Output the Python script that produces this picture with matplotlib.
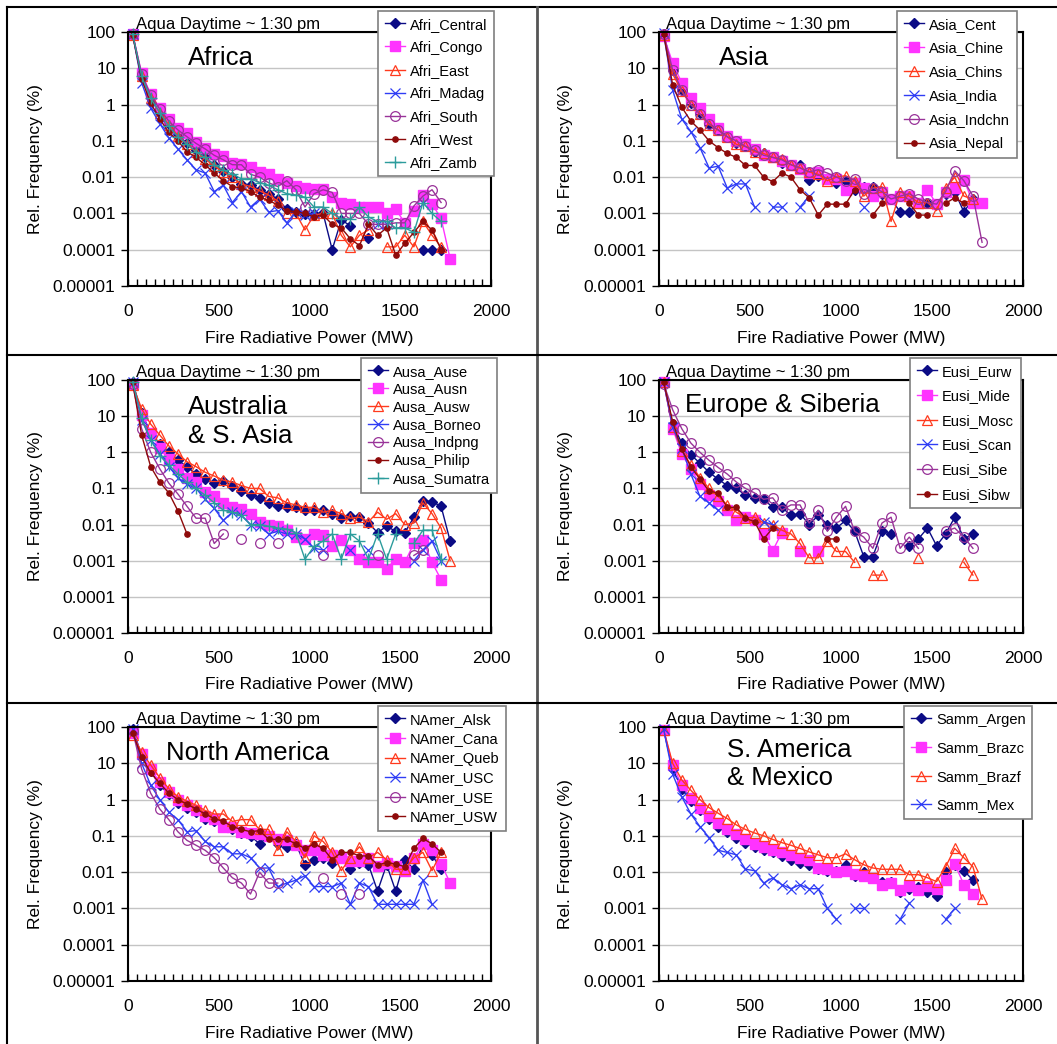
import numpy as np
import matplotlib
matplotlib.use('Agg')
import matplotlib.pyplot as plt
from matplotlib.lines import Line2D
from matplotlib.ticker import FixedLocator, MultipleLocator, NullLocator

plt.rcParams['font.family'] = ['Liberation Sans', 'DejaVu Sans']
N = np.nan

# ---------------- data ----------------
frp = [25 + 50 * i for i in range(36)]  # bin centres (MW)

afri_central = [90, 6, 1.5, 0.6, 0.3, 0.15, 0.085, 0.055, 0.035, 0.022, 0.015, 0.01, 0.0065, 0.006, 0.0045, 0.0035, 0.0025, 0.0013, 0.0011, 0.00095, 0.00095, 0.001, 0.0001, 0.00066, 0.00046, N, 0.00021, N, N, N, N, N, 0.0001, 0.0001, 0.0001, N]
afri_congo = [90, 7.4, 1.9, 0.8, 0.40, 0.23, 0.16, 0.095, 0.065, 0.044, 0.038, 0.025, 0.023, 0.0195, 0.0142, 0.0122, 0.0089, 0.0067, 0.0058, 0.0051, 0.0047, 0.0047, 0.0029, 0.0020, 0.00185, 0.0015, 0.0015, 0.0015, 0.00105, 0.0013, 0.00055, 0.00118, 0.0032, 0.0018, 0.00073, 0.000056]
afri_east = [85, 6, 1.5, 0.6, 0.28, 0.14, 0.08, 0.05, 0.032, 0.02, 0.014, 0.01, 0.0065, 0.0055, 0.0042, 0.0032, 0.0022, 0.001, 0.001, 0.00035, 0.0009, 0.001, 0.001, 0.00025, 0.00012, 0.00025, 0.00035, N, 0.00012, 0.00012, 0.00025, 0.00012, 0.0006, 0.00025, 0.00012, N]
afri_madag = [90, 4, 0.8, 0.3, 0.12, 0.06, 0.03, 0.016, 0.013, 0.004, 0.006, 0.002, 0.004, 0.0015, 0.0025, 0.0011, 0.0012, 0.00055, 0.0011, 0.0009, 0.001, N, N, N, N, N, N, 0.0005, 0.0005, N, N, N, 0.002, N, N, N]
afri_south = [90, 7, 1.8, 0.75, 0.35, 0.2, 0.13, 0.085, 0.06, 0.04, 0.03, 0.022, 0.022, 0.012, 0.01, 0.007, 0.0055, 0.008, 0.0045, 0.0015, 0.0035, 0.0045, 0.0038, 0.001, 0.001, 0.001, 0.0005, 0.0005, 0.0005, 0.00055, 0.00055, 0.0016, 0.003, 0.0045, 0.002, N]
afri_west = [85, 5, 1.1, 0.4, 0.17, 0.1, 0.05, 0.035, 0.022, 0.013, 0.008, 0.0055, 0.005, 0.004, 0.0028, 0.0023, 0.0017, 0.0012, 0.0011, 0.001, 0.0008, 0.0009, 0.0005, 0.0004, 0.0002, 0.00013, 0.0005, 0.00025, 0.0004, 0.00007, 0.00015, 0.0003, 0.0006, 0.00035, 0.0001, N]
afri_zamb = [90, 6, 1.5, 0.6, 0.25, 0.13, 0.08, 0.05, 0.035, 0.022, 0.016, 0.012, 0.009, 0.009, 0.007, 0.006, 0.0045, 0.0035, 0.0032, 0.0028, 0.0015, 0.0015, 0.001, 0.0007, 0.0007, 0.0015, 0.0008, 0.0006, 0.0006, 0.0004, 0.0004, 0.0003, 0.002, 0.001, 0.0006, N]

asia_cent = [90, 9, 2.5, 1.1, 0.6, 0.3, 0.2, 0.13, 0.085, 0.07, 0.05, 0.045, 0.035, 0.025, 0.022, 0.022, 0.0085, 0.011, 0.009, 0.007, 0.008, 0.0045, 0.0055, 0.0055, 0.0035, 0.0025, 0.0011, 0.0011, 0.002, 0.002, 0.0018, 0.0035, 0.004, 0.0011, 0.0025, N]
asia_chine = [80, 14, 4, 1.5, 0.8, 0.4, 0.22, 0.14, 0.1, 0.08, 0.06, 0.04, 0.035, 0.028, 0.022, 0.017, 0.013, 0.014, 0.009, 0.009, 0.0045, 0.007, 0.005, 0.003, 0.004, 0.0025, 0.003, 0.003, 0.002, 0.0045, 0.0018, 0.004, 0.005, 0.0085, 0.002, 0.002]
asia_chins = [85, 7, 2.3, 1.0, 0.55, 0.28, 0.2, 0.13, 0.08, 0.07, 0.05, 0.045, 0.035, 0.032, 0.022, 0.018, 0.014, 0.012, 0.008, 0.01, 0.011, 0.008, 0.003, 0.005, 0.0055, 0.0006, 0.004, 0.003, 0.002, 0.002, 0.0012, 0.005, 0.01, 0.003, 0.0025, N]
asia_india = [95, 2.5, 0.4, 0.18, 0.065, 0.018, 0.02, 0.005, 0.0065, 0.0065, 0.0015, N, 0.0015, 0.0015, N, 0.0015, 0.003, N, N, N, N, N, 0.0015, N, N, N, N, N, N, N, N, N, N, N, N, N]
asia_indchn = [90, 9, 2.5, 1.0, 0.55, 0.3, 0.2, 0.13, 0.1, 0.07, 0.055, 0.04, 0.035, 0.03, 0.022, 0.018, 0.014, 0.016, 0.013, 0.01, 0.008, 0.009, 0.0035, 0.005, 0.004, 0.0025, 0.003, 0.0035, 0.0025, 0.002, 0.0018, 0.004, 0.015, 0.008, 0.003, 0.00016]
asia_nepal = [90, 3.5, 0.85, 0.35, 0.2, 0.1, 0.065, 0.045, 0.035, 0.021, 0.021, 0.01, 0.0075, 0.013, 0.01, 0.0045, 0.0027, 0.0009, 0.0018, 0.0018, 0.0018, 0.0045, N, 0.0009, 0.0019, N, N, 0.0019, 0.0009, 0.0009, N, 0.0019, 0.0027, 0.0019, N, N]

ausa_ause = [90, 12, 3.5, 1.7, 1.0, 0.6, 0.4, 0.25, 0.18, 0.14, 0.16, 0.12, 0.085, 0.065, 0.055, 0.04, 0.032, 0.03, 0.03, 0.026, 0.026, 0.025, 0.02, 0.015, 0.017, 0.016, 0.011, 0.006, 0.009, 0.0065, 0.006, 0.016, 0.045, 0.043, 0.032, 0.0035]
ausa_ausn = [80, 11, 3.5, 1.3, 0.65, 0.35, 0.2, 0.15, 0.08, 0.06, 0.04, 0.03, 0.027, 0.02, 0.012, 0.01, 0.009, 0.007, 0.0045, 0.004, 0.0055, 0.005, 0.0025, 0.0038, 0.002, 0.0011, 0.0009, 0.0009, 0.0006, 0.0011, 0.0009, 0.003, 0.0038, 0.0009, 0.0003, N]
ausa_ausw = [75, 16, 6, 3, 1.5, 0.9, 0.55, 0.4, 0.28, 0.22, 0.17, 0.15, 0.12, 0.1, 0.1, 0.06, 0.055, 0.04, 0.035, 0.03, 0.03, 0.022, 0.025, 0.02, 0.015, 0.016, 0.012, 0.022, 0.014, 0.02, 0.01, 0.011, 0.04, 0.02, 0.008, 0.001]
ausa_borneo = [90, 8, 2.2, 0.9, 0.4, 0.2, 0.13, 0.1, 0.05, 0.028, 0.013, 0.022, 0.018, 0.01, 0.009, 0.0055, 0.0065, 0.0055, 0.0055, 0.004, 0.0022, 0.002, N, N, 0.002, N, 0.002, N, N, N, N, 0.001, 0.002, 0.0035, 0.001, N]
ausa_indpng = [80, 4.5, 1.0, 0.35, 0.14, 0.07, 0.032, 0.015, 0.015, 0.003, 0.0055, N, 0.004, N, 0.003, N, 0.003, N, N, N, N, 0.0014, N, N, N, N, N, 0.0014, N, N, N, 0.0014, 0.002, N, N, N]
ausa_philip = [90, 3, 0.4, 0.15, 0.075, 0.024, 0.0055, N, N, N, N, N, N, N, N, N, N, N, N, N, N, N, N, N, N, N, N, N, N, N, N, N, N, N, N, N]
ausa_sumatra = [90, 9, 2.2, 0.8, 0.45, 0.25, 0.15, 0.1, 0.065, 0.04, 0.025, 0.022, 0.018, 0.01, 0.01, 0.009, 0.008, 0.0075, 0.006, 0.0011, 0.0025, 0.0035, 0.0055, 0.0011, 0.0055, 0.0035, 0.0011, 0.0055, 0.0011, 0.0055, N, 0.003, 0.007, 0.007, 0.0011, N]

eusi_eurw = [90, 6, 1.8, 0.85, 0.5, 0.28, 0.18, 0.12, 0.1, 0.065, 0.055, 0.05, 0.03, 0.03, 0.018, 0.02, 0.01, 0.018, 0.01, 0.008, 0.013, 0.0065, 0.0013, 0.0013, 0.0065, 0.0055, N, 0.0026, 0.004, 0.008, 0.0026, 0.0055, 0.016, 0.004, 0.0055, N]
eusi_mide = [90, 4.5, 0.9, 0.35, 0.13, 0.065, 0.045, 0.025, 0.013, 0.016, 0.013, 0.0055, 0.0019, 0.006, N, 0.0019, N, 0.0019, N, N, N, N, N, N, N, N, N, N, N, N, N, N, N, N, N, N]
eusi_mosc = [90, 5, 1.1, 0.45, 0.2, 0.1, 0.06, 0.035, 0.022, 0.015, 0.016, 0.011, 0.01, 0.007, 0.0055, 0.003, 0.0012, 0.0012, 0.0035, 0.0018, 0.0018, 0.0009, N, 0.0004, 0.0004, N, N, N, 0.0012, N, N, N, N, 0.0009, 0.0004, N]
eusi_scan = [90, 5, 1.3, 0.25, 0.06, 0.04, 0.025, N, N, N, N, 0.012, 0.01, N, N, N, N, N, N, N, N, N, N, N, N, N, N, N, N, N, N, N, N, N, N, N]
eusi_sibe = [80, 15, 4.5, 1.8, 1.0, 0.6, 0.38, 0.25, 0.15, 0.1, 0.075, 0.05, 0.055, 0.025, 0.035, 0.035, 0.011, 0.025, 0.0065, 0.016, 0.032, 0.0065, 0.0045, 0.0022, 0.011, 0.016, 0.0022, 0.0045, 0.0022, N, N, 0.0065, 0.008, 0.0045, 0.0022, N]
eusi_sibw = [90, 7, 1.2, 0.4, 0.18, 0.085, 0.075, 0.03, 0.03, 0.015, 0.012, 0.004, 0.008, N, N, N, N, N, 0.004, 0.004, N, N, N, N, N, N, N, N, N, N, N, N, N, N, N, N]

namer_alsk = [90, 17, 6, 2.5, 1.4, 0.8, 0.6, 0.45, 0.3, 0.25, 0.18, 0.15, 0.12, 0.1, 0.06, 0.1, 0.06, 0.05, 0.06, 0.016, 0.022, 0.025, 0.018, 0.025, 0.012, 0.018, 0.016, 0.003, 0.016, 0.003, 0.022, 0.012, 0.06, 0.03, 0.012, N]
namer_cana = [70, 18, 7, 3, 1.6, 1.0, 0.7, 0.5, 0.35, 0.3, 0.18, 0.17, 0.13, 0.12, 0.11, 0.1, 0.08, 0.075, 0.055, 0.04, 0.04, 0.03, 0.03, 0.025, 0.02, 0.02, 0.025, 0.015, 0.018, 0.015, 0.011, 0.025, 0.06, 0.04, 0.017, 0.005]
namer_queb = [60, 20, 9, 4, 2, 1.2, 0.9, 0.7, 0.5, 0.4, 0.4, 0.25, 0.28, 0.28, 0.15, 0.15, 0.04, 0.13, 0.07, 0.025, 0.1, 0.07, 0.035, 0.011, 0.025, 0.05, 0.025, 0.035, 0.022, 0.012, 0.012, 0.025, 0.035, 0.011, 0.035, N]
namer_usc = [90, 10, 2.5, 1.0, 0.45, 0.28, 0.13, 0.14, 0.07, 0.05, 0.05, 0.032, 0.032, 0.025, 0.013, 0.013, 0.004, 0.005, 0.006, 0.008, 0.004, 0.004, 0.004, 0.005, 0.0013, 0.005, 0.004, 0.0013, 0.0013, 0.0013, 0.0013, 0.0013, 0.006, 0.0013, N, N]
namer_use = [80, 7, 1.5, 0.55, 0.28, 0.13, 0.075, 0.055, 0.04, 0.025, 0.013, 0.007, 0.005, 0.0025, 0.01, 0.005, 0.005, N, N, N, N, 0.007, N, 0.0025, N, 0.0025, N, N, N, N, N, N, N, N, N, N]
namer_usw = [70, 15, 5.5, 2.8, 1.5, 1.0, 0.75, 0.55, 0.4, 0.3, 0.25, 0.18, 0.15, 0.13, 0.14, 0.08, 0.08, 0.08, 0.06, 0.045, 0.06, 0.045, 0.022, 0.035, 0.035, 0.028, 0.028, 0.016, 0.018, 0.017, 0.014, 0.045, 0.085, 0.06, 0.035, N]

samm_argen = [85, 7, 2, 0.9, 0.5, 0.3, 0.18, 0.13, 0.09, 0.065, 0.05, 0.04, 0.035, 0.028, 0.022, 0.018, 0.016, 0.012, 0.011, 0.011, 0.016, 0.008, 0.01, 0.007, 0.0055, 0.0055, 0.0028, 0.0035, 0.004, 0.0028, 0.0022, 0.01, 0.016, 0.011, 0.006, N]
samm_brazc = [85, 9, 2.5, 1.1, 0.6, 0.35, 0.22, 0.15, 0.11, 0.08, 0.06, 0.05, 0.04, 0.035, 0.03, 0.025, 0.022, 0.013, 0.012, 0.01, 0.011, 0.009, 0.008, 0.007, 0.0045, 0.005, 0.0032, 0.0042, 0.0032, 0.0042, 0.0035, 0.006, 0.017, 0.0045, 0.0025, N]
samm_brazf = [85, 10, 3.5, 1.8, 1.0, 0.6, 0.42, 0.3, 0.2, 0.15, 0.12, 0.1, 0.08, 0.065, 0.055, 0.045, 0.036, 0.03, 0.025, 0.025, 0.032, 0.022, 0.016, 0.013, 0.012, 0.012, 0.012, 0.0085, 0.0085, 0.007, 0.0055, 0.014, 0.045, 0.025, 0.014, 0.0018]
samm_mex = [90, 5, 1.2, 0.4, 0.18, 0.09, 0.04, 0.035, 0.03, 0.012, 0.011, 0.005, 0.007, 0.0045, 0.0035, 0.0045, 0.0035, 0.0035, 0.001, 0.0005, N, 0.001, 0.001, N, N, N, 0.0005, 0.0014, N, N, N, 0.0005, 0.001, N, N, N]

ytick_vals = [1e-5, 1e-4, 1e-3, 1e-2, 1e-1, 1, 10, 100]
ytick_labels = ['0.00001', '0.0001', '0.001', '0.01', '0.1', '1', '10', '100']
xtick_vals = [0, 500, 1000, 1500, 2000]

panels = [
    ('Africa', ['Afri_Central', 'Afri_Congo', 'Afri_East', 'Afri_Madag', 'Afri_South', 'Afri_West', 'Afri_Zamb'],
     [afri_central, afri_congo, afri_east, afri_madag, afri_south, afri_west, afri_zamb]),
    ('Asia', ['Asia_Cent', 'Asia_Chine', 'Asia_Chins', 'Asia_India', 'Asia_Indchn', 'Asia_Nepal'],
     [asia_cent, asia_chine, asia_chins, asia_india, asia_indchn, asia_nepal]),
    ('Australia\n& S. Asia', ['Ausa_Ause', 'Ausa_Ausn', 'Ausa_Ausw', 'Ausa_Borneo', 'Ausa_Indpng', 'Ausa_Philip', 'Ausa_Sumatra'],
     [ausa_ause, ausa_ausn, ausa_ausw, ausa_borneo, ausa_indpng, ausa_philip, ausa_sumatra]),
    ('Europe & Siberia', ['Eusi_Eurw', 'Eusi_Mide', 'Eusi_Mosc', 'Eusi_Scan', 'Eusi_Sibe', 'Eusi_Sibw'],
     [eusi_eurw, eusi_mide, eusi_mosc, eusi_scan, eusi_sibe, eusi_sibw]),
    ('North America', ['NAmer_Alsk', 'NAmer_Cana', 'NAmer_Queb', 'NAmer_USC', 'NAmer_USE', 'NAmer_USW'],
     [namer_alsk, namer_cana, namer_queb, namer_usc, namer_use, namer_usw]),
    ('S. America\n& Mexico', ['Samm_Argen', 'Samm_Brazc', 'Samm_Brazf', 'Samm_Mex'],
     [samm_argen, samm_brazc, samm_brazf, samm_mex]),
]

# ---------------- styling / layout ----------------
W, H = 1057, 1044
fig = plt.figure(figsize=(W / 100, H / 100), dpi=100)
fig.patch.set_facecolor('white')

NAVY = '#0B0B85'
MAG = '#FF33FF'
RED = '#FF3A1E'
BLUE = '#2F3DF5'
PURP = '#993399'
DRED = '#8E0A0A'
TEAL = '#2C9C9C'
styles = [
    dict(color=NAVY, marker='D', ms=5.5, mfc=NAVY, mec=NAVY),
    dict(color=MAG, marker='s', ms=7.5, mfc=MAG, mec=MAG),
    dict(color=RED, marker='^', ms=7.5, mfc='none', mec=RED, mew=0.9),
    dict(color=BLUE, marker='x', ms=6.5, mew=0.9),
    dict(color=PURP, marker='o', ms=7, mfc='none', mec=PURP, mew=0.9),
    dict(color=DRED, marker='o', ms=3.8, mfc=DRED, mec=DRED),
    dict(color=TEAL, marker='+', ms=8, mew=1.0),
]

cols = [(128, 491), (659, 1023)]
rows = [(32, 286), (380, 633), (727, 981)]
legend_pos = [(378, 11), (897, 11), (361, 358), (910, 358), (378, 706), (904, 706)]
legend_ls = [0.62, 0.68, 0.27, 0.73, 0.38, 1.0]
title_pos = [(0.165, 0.898), (0.165, 0.898), (0.165, 0.836), (0.071, 0.900), (0.105, 0.898), (0.187, 0.854)]
aqua_x = [0.022, 0.02, 0.022, 0.02, 0.022, 0.02]

for i, (title, names, series) in enumerate(panels):
    c0, c1 = cols[i % 2]
    r0, r1 = rows[i // 2]
    ax = fig.add_axes([c0 / W, 1 - r1 / H, (c1 - c0) / W, (r1 - r0) / H])
    ax.set_yscale('log')
    ax.set_xlim(0, 2000)
    ax.set_ylim(1e-5, 100)
    ax.yaxis.set_major_locator(FixedLocator(ytick_vals))
    ax.set_yticklabels(ytick_labels)
    ax.yaxis.set_minor_locator(NullLocator())
    ax.set_xticks(xtick_vals)
    ax.xaxis.set_minor_locator(MultipleLocator(50))
    ax.tick_params(axis='x', which='both', direction='in', length=5, width=1, pad=13, labelsize=12.5)
    ax.tick_params(axis='y', which='major', direction='out', length=5, width=1, pad=4, labelsize=12.5)
    ax.grid(axis='y', which='major', color='#C4C4C4', lw=1)
    ax.set_axisbelow(True)
    for sp in ax.spines.values():
        sp.set_linewidth(1.5)
        sp.set_color('black')

    handles = []
    for k, (nm, vals) in enumerate(zip(names, series)):
        st = styles[k]
        ln, = ax.plot(frp[:len(vals)], vals, lw=1.0, label=nm, clip_on=False, **st)
        handles.append(ln)

    lx, ly = legend_pos[i]
    leg = ax.legend(handles=handles, loc='upper left', bbox_to_anchor=(lx / W, 1 - ly / H),
                    bbox_transform=fig.transFigure, borderaxespad=0, fancybox=False,
                    edgecolor='#7F7F7F', framealpha=1, fontsize=10.5, handlelength=1.4,
                    handletextpad=0.35, labelspacing=legend_ls[i], borderpad=0.45)
    leg.get_frame().set_linewidth(1.2)
    leg.set_zorder(10)

    tx, ty = title_pos[i]
    ax.text(tx, ty, title, transform=ax.transAxes, fontsize=18.5, ha='left', va='center', linespacing=1.25)
    ax.text(aqua_x[i], 1.012, 'Aqua Daytime ~ 1:30 pm', transform=ax.transAxes, fontsize=12,
            ha='left', va='baseline')
    ax.text(0.5, -0.205, 'Fire Radiative Power (MW)', transform=ax.transAxes, fontsize=12.5,
            ha='center', va='center')
    ax.text(-0.256, 0.5, 'Rel. Frequency (%)', transform=ax.transAxes, fontsize=12.5,
            ha='center', va='center', rotation=90)

# panel separator frame lines
def fline(x0, y0, x1, y1, color='black', lw=1.5):
    fig.add_artist(Line2D([x0 / W, x1 / W], [1 - y0 / H, 1 - y1 / H], transform=fig.transFigure,
                          color=color, lw=lw))

fline(7, 7, W, 7)
fline(7, 7, 7, H)
fline(537, 7, 537, H, color='#555555', lw=2)
fline(7, 355, W, 355)
fline(7, 703, W, 703)

fig.savefig('out.png', dpi=100)
